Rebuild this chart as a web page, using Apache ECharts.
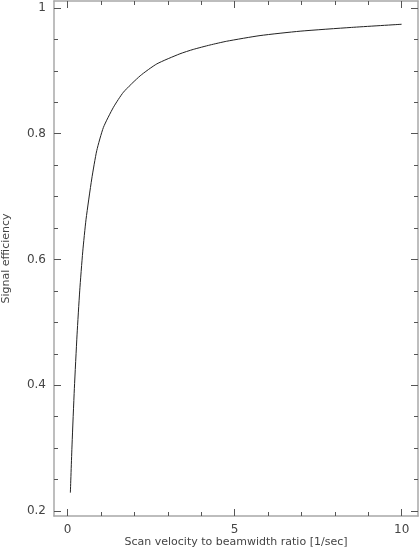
<!DOCTYPE html>
<html>
<head>
<meta charset="utf-8">
<script src="https://cdn.jsdelivr.net/npm/echarts@6/dist/echarts.min.js"></script>
<style>
  html, body { margin: 0; background: #fff; }
  #chart { width: 419px; height: 549px; }
</style>
</head>
<body>
<div id="chart"></div>
<script>
// values
const velocity = [0.08, 0.13, 0.20, 0.28, 0.36, 0.45, 0.55, 0.72, 0.87, 1.07, 1.37,
  1.67, 2.17, 2.67, 3.36, 3.76, 4.26, 4.76, 5.76, 6.96, 8.5, 10.0];
const efficiency = [0.229, 0.305, 0.395, 0.480, 0.550, 0.612, 0.664, 0.728, 0.773, 0.810, 0.842,
  0.866, 0.892, 0.911, 0.927, 0.934, 0.941, 0.947, 0.956, 0.963, 0.969, 0.974];

const xMajorTicks = [0, 5, 10];
const xMinorTicks = [1, 2, 3, 4, 6, 7, 8, 9];
const yMajorTicks = [0.2, 0.4, 0.6, 0.8, 1];
const yMinorTicks = [0.25, 0.3, 0.35, 0.45, 0.5, 0.55, 0.65, 0.7, 0.75, 0.85, 0.9, 0.95];

const X_MIN = -0.41, X_MAX = 10.49;
const Y_MIN = 0.192, Y_MAX = 1.011;

const frameColor = '#a8a8a8';
const tickColor = '#555';
const textColor = '#444';
const fontFamily = 'DejaVu Sans';

function xAxisDef(position, ticks, len, opts) {
  return Object.assign({
    type: 'value', position: position, min: X_MIN, max: X_MAX,
    axisLine: { show: false, onZero: false },
    axisTick: { show: true, inside: true, length: len, customValues: ticks, lineStyle: { color: tickColor, width: 1 } },
    axisLabel: { show: false },
    splitLine: { show: false }
  }, opts || {});
}

function yAxisDef(position, ticks, len, opts) {
  return Object.assign({
    type: 'value', position: position, min: Y_MIN, max: Y_MAX,
    axisLine: { show: false, onZero: false },
    axisTick: { show: true, inside: true, length: len, customValues: ticks, lineStyle: { color: tickColor, width: 1 } },
    axisLabel: { show: false },
    splitLine: { show: false }
  }, opts || {});
}

const frameLine = { show: true, onZero: false, lineStyle: { color: frameColor, width: 1.5 } };

const chart = echarts.init(document.getElementById('chart'));
chart.setOption({
  animation: false,
  backgroundColor: '#fff',
  grid: { left: 54, right: 1, top: 1, bottom: 33, containLabel: false, outerBoundsMode: 'none' },
  xAxis: [
    xAxisDef('bottom', xMajorTicks, 7, {
      axisLine: frameLine,
      axisLabel: { show: true, customValues: xMajorTicks, margin: 8, color: textColor, fontSize: 12, fontFamily: fontFamily },
      name: 'Scan velocity to beamwidth ratio [1/sec]',
      nameLocation: 'middle', nameGap: 21, nameMoveOverlap: false,
      nameTextStyle: { color: textColor, fontSize: 11, fontFamily: fontFamily }
    }),
    xAxisDef('bottom', xMinorTicks, 4),
    xAxisDef('top', xMajorTicks, 7, { axisLine: frameLine }),
    xAxisDef('top', xMinorTicks, 4)
  ],
  yAxis: [
    yAxisDef('left', yMajorTicks, 7, {
      axisLine: frameLine,
      axisLabel: { show: true, customValues: yMajorTicks, margin: 8, color: textColor, fontSize: 12, fontFamily: fontFamily },
      name: 'Signal efficiency',
      nameLocation: 'middle', nameGap: 42, nameRotate: 90, nameMoveOverlap: false,
      nameTextStyle: { color: textColor, fontSize: 11, fontFamily: fontFamily }
    }),
    yAxisDef('left', yMinorTicks, 4),
    yAxisDef('right', yMajorTicks, 7, { axisLine: frameLine }),
    yAxisDef('right', yMinorTicks, 4)
  ],
  series: [{
    type: 'line',
    xAxisIndex: 0,
    yAxisIndex: 0,
    data: velocity.map((v, i) => [v, efficiency[i]]),
    smooth: 0.2,
    showSymbol: false,
    lineStyle: { color: '#222', width: 1 }
  }]
});
</script>
</body>
</html>
